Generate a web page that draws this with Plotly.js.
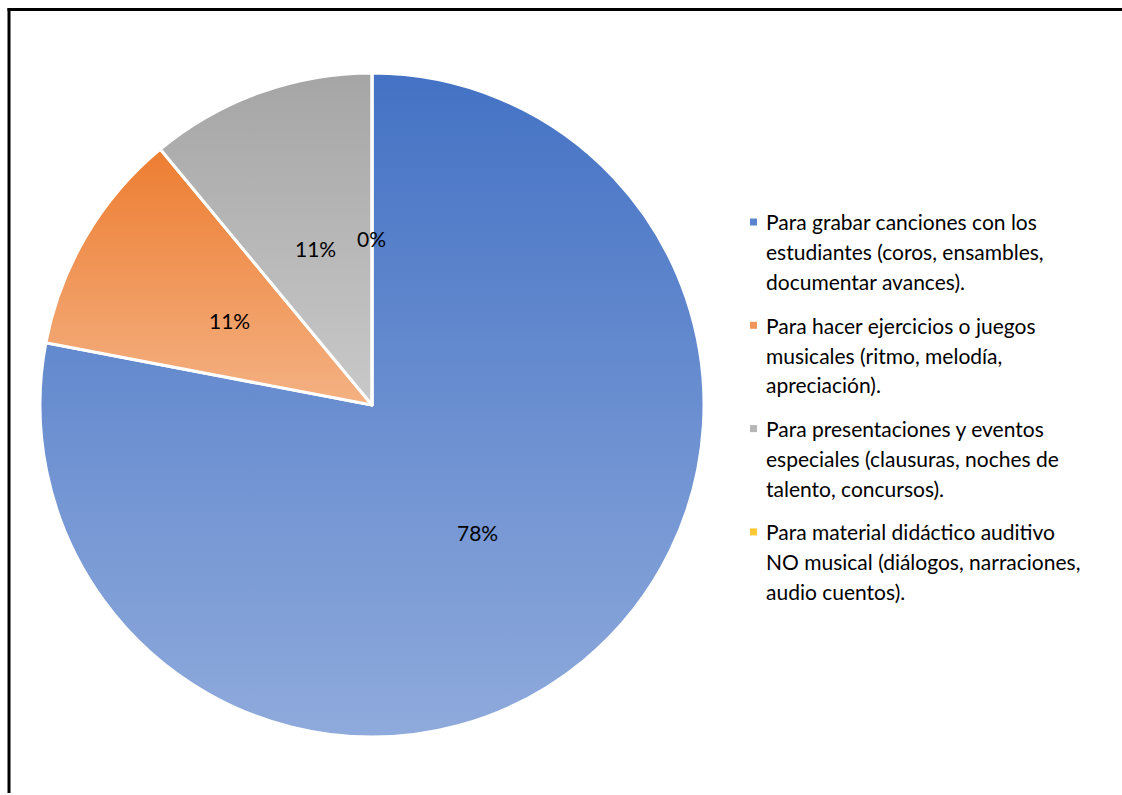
<!DOCTYPE html>
<html>
<head>
<meta charset="utf-8">
<script src="https://cdn.plot.ly/plotly-3.0.1.min.js"></script>
<style>
  html, body { margin: 0; padding: 0; background: #ffffff; }
  #chart { width: 1122px; height: 795px; }
</style>
</head>
<body>
<div id="chart"></div>
<script>
// ---- data ----
const categories = [
  "Para grabar canciones con los<br>estudiantes (coros, ensambles,<br>documentar avances).",
  "Para hacer ejercicios o juegos<br>musicales (ritmo, melodía,<br>apreciación).",
  "Para presentaciones y eventos<br>especiales (clausuras, noches de<br>talento, concursos).",
  "Para material didáctico auditivo<br>NO musical (diálogos, narraciones,<br>audio cuentos)."
];
const values = [78, 11, 11, 0];
const valueLabels = ["78%", "11%", "11%", "0%"];

// ---- styles ----
const baseColors = ["#4472C4", "#ED7D31", "#A5A5A5", "#FFC000"];
const gradTop = ["#4472C4", "#ED7D31", "#A5A5A5", "#FFC000"];
const gradBottom = ["#8FAADC", "#F4B183", "#C9C9C9", "#FFD966"];
const legendMarkerColors = ["#5B83CF", "#F0955A", "#B6B6B6", "#FFC935"];

const W = 1122, H = 795;
const FONT = "Lato, 'Liberation Sans', sans-serif";
const FSIZE = 21;

// pie geometry (pixels) -> domain
const cx = 372, cy = 405, R = 332;
const domX = [(cx - R) / W, (cx + R) / W];
const domY = [1 - (cy + R) / H, 1 - (cy - R) / H];

const trace = {
  type: "pie",
  labels: categories,
  values: values,
  sort: false,
  direction: "clockwise",
  rotation: 0,
  textinfo: "none",
  hoverinfo: "none",
  showlegend: false,
  marker: { colors: baseColors, line: { color: "#ffffff", width: 3 } },
  domain: { x: domX, y: domY }
};

// percentage labels inside slices, positioned from cumulative data
const annotations = [];
const total = values.reduce((a, b) => a + b, 0);
let cum = 0;
values.forEach((v, i) => {
  const mid = (cum + v / 2) / total * 2 * Math.PI;
  cum += v;
  const px = cx + 0.5 * R * Math.sin(mid);
  const py = cy - 0.5 * R * Math.cos(mid);
  annotations.push({
    xref: "paper", yref: "paper",
    x: px / W, y: 1 - py / H,
    text: valueLabels[i], showarrow: false,
    xanchor: "center", yanchor: "middle", borderpad: 0,
    font: { family: FONT, size: FSIZE, color: "#000000" }
  });
});

// custom legend: one annotation per text line, square markers as shapes
const shapes = [];
const legTextX = 765, legMarkX = 750, legTop = 222, lineGap = 29.8, itemGap = 103.3;
categories.forEach((lab, i) => {
  const lines = lab.split("<br>");
  const y0 = legTop + i * itemGap;
  lines.forEach((ln, j) => {
    annotations.push({
      xref: "paper", yref: "paper",
      x: legTextX / W, y: 1 - (y0 + j * lineGap) / H,
      text: ln, showarrow: false,
      xanchor: "left", yanchor: "middle", borderpad: 0,
      font: { family: FONT, size: FSIZE, color: "#000000" }
    });
  });
  shapes.push({
    type: "rect", xref: "paper", yref: "paper",
    x0: legMarkX / W, x1: (legMarkX + 7) / W,
    y0: 1 - (y0 - 3.5) / H, y1: 1 - (y0 + 3.5) / H,
    fillcolor: legendMarkerColors[i], line: { width: 0 }
  });
});

// frame (top and left edges)
shapes.push({ type: "line", xref: "paper", yref: "paper",
  x0: 7.5 / W, x1: 1.01, y0: 1 - 9.5 / H, y1: 1 - 9.5 / H,
  line: { color: "#000000", width: 3 } });
shapes.push({ type: "line", xref: "paper", yref: "paper",
  x0: 9 / W, x1: 9 / W, y0: 1 - 8 / H, y1: 1 - 793 / H,
  line: { color: "#000000", width: 3 } });

const layout = {
  width: W, height: H,
  margin: { l: 0, r: 0, t: 0, b: 0 },
  paper_bgcolor: "#ffffff",
  plot_bgcolor: "#ffffff",
  showlegend: false,
  annotations: annotations,
  shapes: shapes,
  font: { family: FONT, size: FSIZE, color: "#000000" }
};

Plotly.newPlot("chart", [trace], layout, { staticPlot: true, displayModeBar: false }).then(gd => {
  // vertical gradient fills per slice (as in the original)
  const svg = gd.querySelector("svg.main-svg");
  const ns = "http://www.w3.org/2000/svg";
  let defs = svg.querySelector("defs");
  if (!defs) { defs = document.createElementNS(ns, "defs"); svg.insertBefore(defs, svg.firstChild); }
  const paths = gd.querySelectorAll("g.slice path.surface");
  paths.forEach((p, i) => {
    const id = "sliceGrad" + i;
    const lg = document.createElementNS(ns, "linearGradient");
    lg.setAttribute("id", id);
    lg.setAttribute("x1", "0"); lg.setAttribute("y1", "0");
    lg.setAttribute("x2", "0"); lg.setAttribute("y2", "1");
    [[0, gradTop[i]], [1, gradBottom[i]]].forEach(([o, c]) => {
      const s = document.createElementNS(ns, "stop");
      s.setAttribute("offset", String(o));
      s.setAttribute("stop-color", c);
      lg.appendChild(s);
    });
    defs.appendChild(lg);
    p.style.fill = "url(#" + id + ")";
  });
});
</script>
</body>
</html>
